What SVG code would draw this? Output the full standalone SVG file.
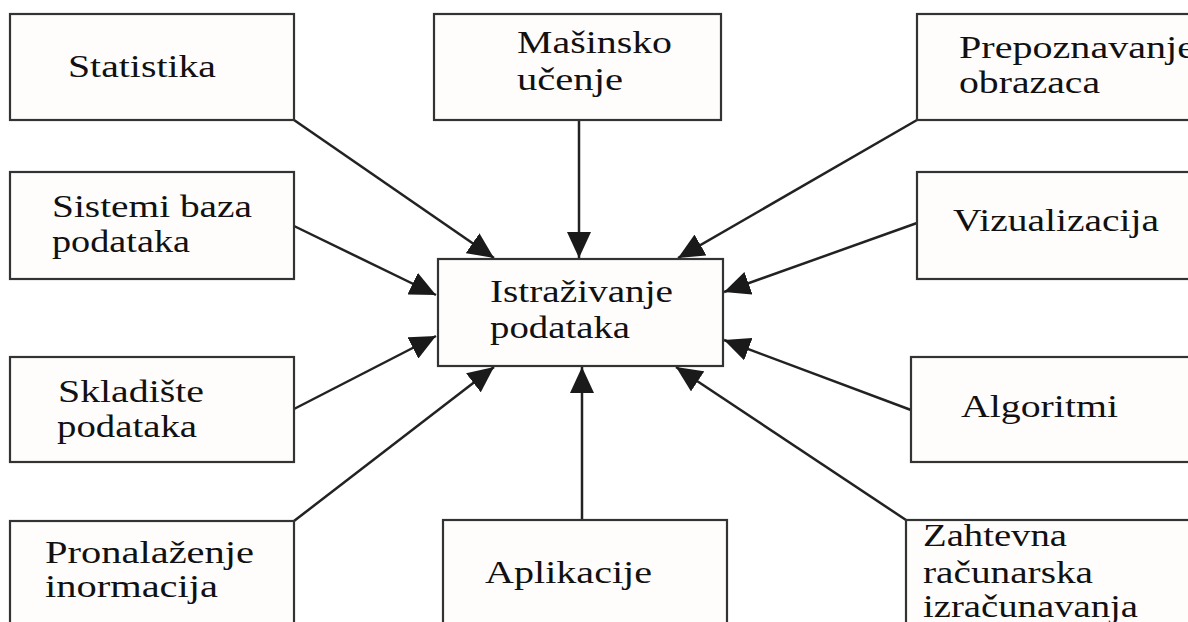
<svg xmlns="http://www.w3.org/2000/svg" width="1188" height="622" viewBox="0 0 1188 622">
<style>
.box{fill:#fffdfc;stroke:#333;stroke-width:2.2}
.t{font-family:"Liberation Serif","Times New Roman",serif;font-size:32px;fill:#111}
.c{stroke:#222;stroke-width:2.5;fill:none}
</style>
<defs>
<marker id="ah" viewBox="0 0 26 24" refX="26" refY="12" markerWidth="26" markerHeight="24" markerUnits="userSpaceOnUse" orient="auto">
<path d="M0,0 L26,12 L0,24 z" fill="#1a1a1a"/>
</marker>
</defs>
<rect width="1188" height="622" fill="#fff"/>
<g id="connectors">
<line class="c" x1="294" y1="120" x2="494" y2="258" marker-end="url(#ah)"/>
<line class="c" x1="579" y1="120" x2="579" y2="258" marker-end="url(#ah)"/>
<line class="c" x1="917" y1="120" x2="678" y2="258" marker-end="url(#ah)"/>
<line class="c" x1="294" y1="226" x2="436" y2="295" marker-end="url(#ah)"/>
<line class="c" x1="917" y1="223" x2="724" y2="292" marker-end="url(#ah)"/>
<line class="c" x1="294" y1="409" x2="436" y2="336" marker-end="url(#ah)"/>
<line class="c" x1="911" y1="410" x2="724" y2="340" marker-end="url(#ah)"/>
<line class="c" x1="294" y1="521" x2="494" y2="367" marker-end="url(#ah)"/>
<line class="c" x1="582" y1="520" x2="582" y2="367" marker-end="url(#ah)"/>
<line class="c" x1="906" y1="520" x2="676" y2="367" marker-end="url(#ah)"/>
</g>
<g id="center">
<rect class="box" x="438" y="259" width="285" height="107"/>
<text class="t" x="490" y="302" textLength="183" lengthAdjust="spacingAndGlyphs">Istraživanje</text>
<text class="t" x="490" y="338" textLength="140" lengthAdjust="spacingAndGlyphs">podataka</text>
</g>
<g id="statistika">
<rect class="box" x="10" y="14" width="284" height="106"/>
<text class="t" x="68" y="77" textLength="148" lengthAdjust="spacingAndGlyphs">Statistika</text>
</g>
<g id="masinsko">
<rect class="box" x="434" y="14" width="287" height="106"/>
<text class="t" x="517" y="53" textLength="155" lengthAdjust="spacingAndGlyphs">Mašinsko</text>
<text class="t" x="517" y="90" textLength="106" lengthAdjust="spacingAndGlyphs">učenje</text>
</g>
<g id="prepoznavanje">
<rect class="box" x="917" y="14" width="290" height="106"/>
<text class="t" x="959" y="58" textLength="236" lengthAdjust="spacingAndGlyphs">Prepoznavanje</text>
<text class="t" x="959" y="93" textLength="141" lengthAdjust="spacingAndGlyphs">obrazaca</text>
</g>
<g id="sistemi">
<rect class="box" x="10" y="172" width="284" height="107"/>
<text class="t" x="52" y="217" textLength="200" lengthAdjust="spacingAndGlyphs">Sistemi baza</text>
<text class="t" x="52" y="252" textLength="138" lengthAdjust="spacingAndGlyphs">podataka</text>
</g>
<g id="vizualizacija">
<rect class="box" x="917" y="172" width="290" height="107"/>
<text class="t" x="953" y="231" textLength="206" lengthAdjust="spacingAndGlyphs">Vizualizacija</text>
</g>
<g id="skladiste">
<rect class="box" x="10" y="357" width="284" height="105"/>
<text class="t" x="58" y="402" textLength="146" lengthAdjust="spacingAndGlyphs">Skladište</text>
<text class="t" x="57" y="437" textLength="140" lengthAdjust="spacingAndGlyphs">podataka</text>
</g>
<g id="algoritmi">
<rect class="box" x="911" y="357" width="296" height="105"/>
<text class="t" x="961" y="417" textLength="157" lengthAdjust="spacingAndGlyphs">Algoritmi</text>
</g>
<g id="pronalazenje">
<rect class="box" x="10" y="521" width="284" height="120"/>
<text class="t" x="45" y="563" textLength="209" lengthAdjust="spacingAndGlyphs">Pronalaženje</text>
<text class="t" x="45" y="597" textLength="173" lengthAdjust="spacingAndGlyphs">inormacija</text>
</g>
<g id="aplikacije">
<rect class="box" x="443" y="520" width="284" height="120"/>
<text class="t" x="485" y="583" textLength="167" lengthAdjust="spacingAndGlyphs">Aplikacije</text>
</g>
<g id="zahtevna">
<rect class="box" x="906" y="520" width="301" height="120"/>
<text class="t" x="923" y="546" textLength="144" lengthAdjust="spacingAndGlyphs">Zahtevna</text>
<text class="t" x="923" y="583" textLength="170" lengthAdjust="spacingAndGlyphs">računarska</text>
<text class="t" x="923" y="617" textLength="215" lengthAdjust="spacingAndGlyphs">izračunavanja</text>
</g>
</svg>
